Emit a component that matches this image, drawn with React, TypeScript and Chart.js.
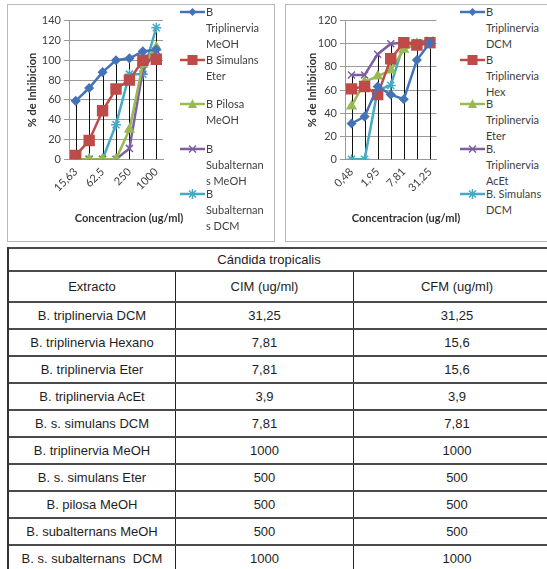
import React, { useEffect, useRef } from 'react';
import { Chart, registerables } from 'chart.js';

Chart.register(...registerables);

// ---------- DATA ----------
const leftLabels = ['15,63', '31,25', '62,5', '125', '250', '500', '1000'];
const leftNames = [
  ['B', 'Triplinervia', 'MeOH'],
  ['B Simulans', 'Eter'],
  ['B Pilosa', 'MeOH'],
  ['B', 'Subalternan', 's MeOH'],
  ['B', 'Subalternan', 's DCM'],
];
const triplinerviaMeOH = [59, 72, 88, 100, 102, 109, 111];
const simulansEter = [4, 19, 49, 71, 80, 100, 101];
const pilosaMeOH = [0, 0, 0, 0, 30, 96, 113];
const subalternansMeOH = [0, 0, 0, 0, 11, 90, 110];
const subalternansDCM = [0, 0, 0, 35, 86, 86, 133];

const rightLabels = ['0,48', '0,98', '1,95', '3,9', '7,81', '15,63', '31,25'];
const rightNames = [
  ['B', 'Triplinervia', 'DCM'],
  ['B', 'Triplinervia', 'Hex'],
  ['B', 'Triplinervia', 'Eter'],
  ['B.', 'Triplinervia', 'AcEt'],
  ['B. Simulans', 'DCM'],
];
const triplinerviaDCM = [31, 37, 63, 56, 52, 86, 101];
const triplinerviaHex = [61, 63, 56, 87, 101, 99, 101];
const triplinerviaEter = [46, 67, 72, 77, 95, 100, 99];
const triplinerviaAcEt = [73, 73, 91, 100, 101, 101, 103];
const simulansDCM = [0, 0, 60, 64, 100, 100, 100];

const yTitle = '% de Inhibicion';
const xTitle = 'Concentracion (ug/ml)';

const tableTitle = 'Cándida tropicalis';
const tableHeaders = ['Extracto', 'CIM (ug/ml)', 'CFM (ug/ml)'];
const extractos = [
  'B. triplinervia DCM',
  'B. triplinervia Hexano',
  'B. triplinervia Eter',
  'B. triplinervia AcEt',
  'B. s. simulans DCM',
  'B. triplinervia MeOH',
  'B. s. simulans Eter',
  'B. pilosa MeOH',
  'B. subalternans MeOH',
  'B. s. subalternans  DCM',
];
const cimValues = ['31,25', '7,81', '7,81', '3,9', '7,81', '1000', '500', '500', '500', '1000'];
const cfmValues = ['31,25', '15,6', '15,6', '3,9', '7,81', '1000', '500', '500', '500', '1000'];

// ---------- STYLES ----------
const COLORS = ['#4573B8', '#BE4B48', '#98B954', '#7D5FA0', '#46AAC5'];
const STYLES = ['rectRot', 'rect', 'triangle', 'crossRot', 'star'];
const RADII = [4, 7, 5, 5, 5];
const FONT = 'Lato, "Open Sans", sans-serif';
const TEXT = '#404040';

const dropLines = {
  id: 'dropLines',
  beforeDatasetsDraw(chart: any) {
    const { ctx, scales } = chart;
    const x = scales.x;
    const y = scales.y;
    const n = chart.data.labels.length;
    ctx.save();
    ctx.strokeStyle = '#111';
    ctx.lineWidth = 1;
    for (let i = 0; i < n; i++) {
      let max = -Infinity;
      chart.data.datasets.forEach((ds: any) => {
        const v = ds.data[i];
        if (typeof v === 'number' && v > max) max = v;
      });
      const px = Math.round(x.getPixelForValue(i)) + 0.5;
      ctx.beginPath();
      ctx.moveTo(px, y.getPixelForValue(max));
      ctx.lineTo(px, y.getPixelForValue(0));
      ctx.stroke();
    }
    ctx.restore();
  },
};

type LCProps = {
  left: number;
  top: number;
  width: number;
  height: number;
  labels: string[];
  series: number[][];
  names: string[][];
  yMax: number;
  yAxisWidth: number;
  padRight: number;
  padTop: number;
  xAxisHeight: number;
  yTitlePad: number;
};

function LineChart(p: LCProps) {
  const ref = useRef<HTMLCanvasElement>(null);
  useEffect(() => {
    if (!ref.current) return;
    const chart = new Chart(ref.current, {
      type: 'line',
      data: {
        labels: p.labels,
        datasets: p.series.map((d, i) => ({
          label: p.names[i].join(' '),
          data: d,
          borderColor: COLORS[i],
          backgroundColor: COLORS[i],
          pointBackgroundColor: COLORS[i],
          pointBorderColor: COLORS[i],
          pointStyle: STYLES[i] as any,
          pointRadius: RADII[i],
          pointBorderWidth: 1.5,
          borderWidth: 2.5,
          tension: 0,
          fill: false,
        })),
      },
      options: {
        animation: false,
        responsive: false,
        devicePixelRatio: 1,
        layout: { padding: { top: p.padTop, right: p.padRight, left: 0, bottom: 0 } },
        plugins: { legend: { display: false }, tooltip: { enabled: false } },
        scales: {
          x: {
            type: 'category',
            offset: true,
            grid: { display: false, drawTicks: true, tickLength: 4 },
            border: { display: true, color: '#999' },
            ticks: {
              autoSkip: false,
              minRotation: 45,
              maxRotation: 45,
              padding: 2,
              color: TEXT,
              font: { family: FONT, size: 11 },
              callback: (_v: any, i: number) => (i % 2 === 0 ? p.labels[i] : ''),
            },
            afterFit: (s: any) => {
              s.height = p.xAxisHeight;
            },
          },
          y: {
            min: 0,
            max: p.yMax,
            grid: { color: '#9a9a9a', tickLength: 5, lineWidth: 1 },
            border: { display: true, color: '#999' },
            ticks: { stepSize: 20, padding: 3, color: TEXT, font: { family: FONT, size: 11 } },
            title: {
              display: true,
              text: yTitle,
              color: '#303030',
              font: { family: FONT, size: 11, weight: 'bold' },
              padding: { top: p.yTitlePad, bottom: 0 },
            },
            afterFit: (s: any) => {
              s.width = p.yAxisWidth;
            },
          },
        },
      } as any,
      plugins: [dropLines],
    });
    return () => chart.destroy();
  }, []);
  return (
    <canvas
      ref={ref}
      width={p.width}
      height={p.height}
      style={{ position: 'absolute', left: p.left, top: p.top, width: p.width, height: p.height }}
    />
  );
}

function Marker({ idx }: { idx: number }) {
  const color = COLORS[idx];
  const style = STYLES[idx];
  let shape: any = null;
  if (style === 'rectRot') shape = <polygon points="12.5,2 16.5,6 12.5,10 8.5,6" fill={color} />;
  else if (style === 'rect') shape = <rect x={7.5} y={1} width={10} height={10} fill={color} />;
  else if (style === 'triangle') shape = <polygon points="12.5,1 17,10 8,10" fill={color} />;
  else if (style === 'crossRot')
    shape = <path d="M9 2.5 L16 9.5 M16 2.5 L9 9.5" stroke={color} strokeWidth={1.5} />;
  else
    shape = (
      <path d="M9 2.5 L16 9.5 M16 2.5 L9 9.5 M12.5 1 L12.5 11 M7.5 6 L17.5 6" stroke={color} strokeWidth={1.5} />
    );
  return (
    <svg width={25} height={12} style={{ display: 'block' }}>
      <line x1={0} y1={6} x2={25} y2={6} stroke={color} strokeWidth={2.5} />
      {shape}
    </svg>
  );
}

function Legend({ names, markerLeft, centers }: { names: string[][]; markerLeft: number; centers: number[] }) {
  return (
    <>
      {names.map((lines, i) => (
        <React.Fragment key={i}>
          <div style={{ position: 'absolute', left: markerLeft, top: centers[i] - 6 }}>
            <Marker idx={i} />
          </div>
          <div
            style={{
              position: 'absolute',
              left: markerLeft + 26,
              top: centers[i] - 8,
              fontFamily: FONT,
              fontSize: 11,
              lineHeight: '16px',
              color: TEXT,
              whiteSpace: 'nowrap',
            }}
          >
            {lines.map((l, j) => (
              <div key={j}>{l}</div>
            ))}
          </div>
        </React.Fragment>
      ))}
    </>
  );
}

function XTitle({ cx }: { cx: number }) {
  return (
    <div
      style={{
        position: 'absolute',
        left: cx - 100,
        width: 200,
        top: 211,
        textAlign: 'center',
        fontFamily: FONT,
        fontSize: 11,
        fontWeight: 'bold',
        color: '#303030',
        lineHeight: '14px',
      }}
    >
      {xTitle}
    </div>
  );
}

const COLW = [166, 177, 206];

function TRow({ cells, height }: { cells: string[]; height: number }) {
  return (
    <div
      style={{
        display: 'flex',
        height,
        boxSizing: 'border-box',
        borderTop: '2px solid #4a4a4a',
      }}
    >
      {cells.map((c, i) => (
        <div
          key={i}
          style={{
            width: COLW[i] + (i > 0 ? 1 : 0),
            boxSizing: 'border-box',
            borderLeft: i > 0 ? '1px solid #222' : 'none',
            display: 'flex',
            alignItems: 'center',
            justifyContent: 'center',
            whiteSpace: 'pre',
          }}
        >
          {c}
        </div>
      ))}
    </div>
  );
}

export default function App() {
  const centers = [12, 59.5, 104, 148.5, 194];
  return (
    <div
      style={{
        position: 'absolute',
        left: 0,
        top: 0,
        width: 547,
        height: 569,
        overflow: 'hidden',
        background: '#fff',
      }}
    >
      <div
        style={{
          position: 'absolute',
          left: 7,
          top: 4,
          width: 268,
          height: 238,
          border: '1px solid #b8b8b8',
          boxSizing: 'border-box',
        }}
      />
      <div
        style={{
          position: 'absolute',
          left: 285,
          top: 4,
          width: 280,
          height: 238,
          border: '1px solid #b8b8b8',
          boxSizing: 'border-box',
        }}
      />
      <LineChart
        left={7}
        top={4}
        width={180}
        height={238}
        labels={leftLabels}
        series={[triplinerviaMeOH, simulansEter, pilosaMeOH, subalternansMeOH, subalternansDCM]}
        names={leftNames}
        yMax={140}
        yAxisWidth={62}
        padRight={24}
        padTop={16.7}
        xAxisHeight={82.7}
        yTitlePad={18.4}
      />
      <LineChart
        left={285}
        top={4}
        width={160}
        height={238}
        labels={rightLabels}
        series={[triplinerviaDCM, triplinerviaHex, triplinerviaEter, triplinerviaAcEt, simulansDCM]}
        names={rightNames}
        yMax={120}
        yAxisWidth={60}
        padRight={5}
        padTop={16.7}
        xAxisHeight={82.7}
        yTitlePad={20.4}
      />
      <Legend names={leftNames} markerLeft={180} centers={centers} />
      <Legend names={rightNames} markerLeft={460} centers={centers} />
      <XTitle cx={129} />
      <XTitle cx={406} />

      <div
        style={{
          position: 'absolute',
          left: 7,
          top: 247,
          width: 551,
          borderLeft: '2px solid #333',
          fontFamily: '"Liberation Sans", Arial, sans-serif',
          fontSize: 13,
          color: '#1e1e1e',
        }}
      >
        <div
          style={{
            height: 23,
            boxSizing: 'border-box',
            borderTop: '2px solid #4a4a4a',
            display: 'flex',
            alignItems: 'center',
            justifyContent: 'center',
            paddingRight: 31,
          }}
        >
          {tableTitle}
        </div>
        <TRow cells={tableHeaders} height={31} />
        {extractos.map((e, i) => (
          <TRow key={i} cells={[e, cimValues[i], cfmValues[i]]} height={27} />
        ))}
      </div>
    </div>
  );
}
